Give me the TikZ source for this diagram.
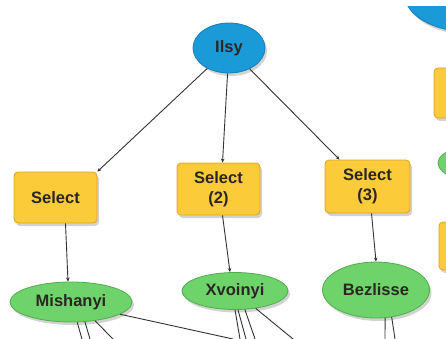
\documentclass[tikz,border=0pt]{standalone}
\usepackage{fontspec}
\setmainfont{Liberation Sans}
\usepackage{tikz}
\usetikzlibrary{shapes.geometric,shadows,arrows.meta}

\definecolor{inblue}{HTML}{1B9AD8}
\definecolor{inblueline}{HTML}{1580B5}
\definecolor{toolyellow}{HTML}{FBCB3A}
\definecolor{toolline}{HTML}{E0A22A}
\definecolor{outgreen}{HTML}{6FD36B}
\definecolor{outgreenline}{HTML}{4FAE4B}
\definecolor{labeltext}{HTML}{2A2622}

\begin{document}
\begin{tikzpicture}[x=1pt,y=-1pt,
  every node/.style={font=\fontsize{16.5}{20}\selectfont\bfseries,text=labeltext,align=center,inner sep=0pt},
  shade/.style={drop shadow={shadow xshift=2pt,shadow yshift=-3pt,fill=black!35}},
  invar/.style={ellipse,fill=inblue,draw=inblueline,line width=0.8pt,shade},
  tool/.style={rectangle,rounded corners=4pt,fill=toolyellow,draw=toolline,line width=0.8pt,shade},
  outvar/.style={ellipse,fill=outgreen,draw=outgreenline,line width=0.8pt,shade},
  link/.style={draw=black!80,line width=0.9pt,-{Stealth[length=4pt,width=3.5pt]}},
  wire/.style={draw=black!80,line width=0.9pt}]
\useasboundingbox (0,0) rectangle (446,339);
\fill[white] (0,0) rectangle (446,339);
\clip (0,0) rectangle (446,339);

% shapes cut off at the right edge
\begin{scope}
\clip (0,7) rectangle (446,339);
\node[invar,minimum width=130pt,minimum height=74pt] (nextin) at (470,-5) {};
\end{scope}
\node[tool,minimum width=40pt,minimum height=50pt] (nexttool) at (454,93) {};
\node[outvar,minimum width=104pt,minimum height=40pt] (nextout) at (490,163) {};
\node[tool,minimum width=40pt,minimum height=48pt] (lasttool) at (459,246) {};

% input
\node[invar,minimum width=72pt,minimum height=50pt] (ilsy) at (229,48) {Ilsy};

% tools
\node[tool,minimum width=83pt,minimum height=51pt] (sel1) at (55.5,197.5) {Select};
\node[tool,minimum width=83pt,minimum height=52pt] (sel2) at (218.5,189) {Select\\(2)};
\node[tool,minimum width=85pt,minimum height=53pt] (sel3) at (367.5,186.5) {Select\\(3)};

% outputs
\node[outvar,minimum width=122pt,minimum height=40pt] (mish) at (71,302) {Mishanyi};
\node[outvar,minimum width=106pt,minimum height=37pt] (xvoi) at (235,291) {Xvoinyi};
\node[outvar,minimum width=107pt,minimum height=56pt] (bezl) at (376,290) {Bezlisse};

\draw[link] (ilsy) -- (sel1.north east);
\draw[link] (ilsy) -- ([xshift=4pt]sel2.north);
\draw[link] (ilsy) -- ([xshift=-28pt]sel3.north);

\draw[link] ([xshift=10pt]sel1.south) -- ([xshift=-3pt]mish.north);
\draw[link] ([xshift=4pt]sel2.south) -- ([xshift=-5pt]xvoi.north);
\draw[link] ([xshift=4pt]sel3.south) -- (bezl.north);

% lines running on below the picture
\coordinate (m1) at (82,339);
\coordinate (m2) at (90,339);
\coordinate (m3) at (113,339);
\coordinate (m4) at (233,339);
\coordinate (x1) at (240,339);
\coordinate (x2) at (246,339);
\coordinate (x3) at (255,339);
\coordinate (x4) at (293,339);
\coordinate (b1) at (385,339);
\coordinate (b2) at (395,339);

\draw[wire] (mish.-73) -- (m1);
\draw[wire] (mish.-55) -- (m2);
\draw[wire] (mish.-38) -- (m3);
\draw[wire] (mish.-14) -- (m4);
\draw[wire] (xvoi.-90) -- (x1);
\draw[wire] (xvoi.-81) -- (x2);
\draw[wire] (xvoi.-62) -- (x3);
\draw[wire] (xvoi.-40) -- (x4);
\draw[wire] (bezl.-72) -- (b1);
\draw[wire] (bezl.-60) -- (b2);
\end{tikzpicture}
\end{document}
